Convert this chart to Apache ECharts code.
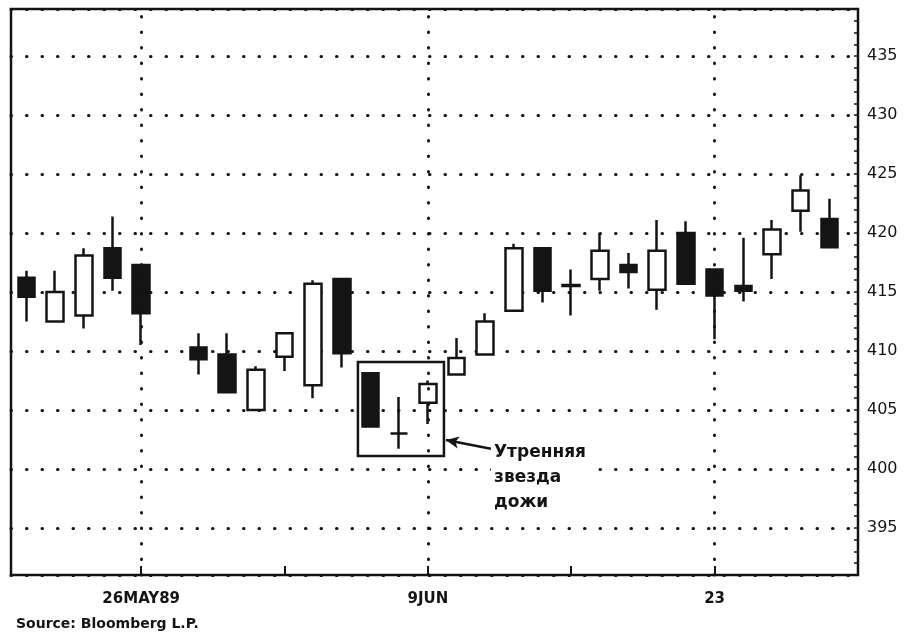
<!DOCTYPE html>
<html>
<head>
<meta charset="utf-8">
<script src="https://cdn.jsdelivr.net/npm/echarts@6/dist/echarts.min.js"></script>
<style>html,body{margin:0;padding:0;background:#fff}#c{width:917px;height:637px}</style>
</head>
<body>
<div id="c"></div>
<script>
// Trading days (slot for the 29 May holiday kept empty)
const dates = ['1989-05-22','1989-05-23','1989-05-24','1989-05-25','1989-05-26','1989-05-29','1989-05-30','1989-05-31','1989-06-01','1989-06-02','1989-06-05','1989-06-06','1989-06-07','1989-06-08','1989-06-09','1989-06-12','1989-06-13','1989-06-14','1989-06-15','1989-06-16','1989-06-19','1989-06-20','1989-06-21','1989-06-22','1989-06-23','1989-06-26','1989-06-27','1989-06-28','1989-06-29'];
const opens  = [416.2,412.5,413.0,418.7,417.3,null,410.3,409.7,405.0,409.5,407.1,416.1,408.1,403.0,405.6,408.0,409.7,413.4,418.7,415.6,416.1,417.3,415.2,420.0,416.9,415.5,418.2,421.9,421.2];
const closes = [414.6,415.0,418.1,416.2,413.2,null,409.3,406.5,408.4,411.5,415.7,409.8,403.6,403.0,407.2,409.4,412.5,418.7,415.1,415.5,418.5,416.7,418.5,415.7,414.7,415.1,420.3,423.6,418.8];
const lows   = [412.5,412.4,411.9,415.1,410.5,null,408.0,406.4,405.0,408.3,406.0,408.6,403.6,401.7,403.8,408.0,409.7,413.4,414.1,413.0,415.1,415.3,413.5,415.6,411.0,414.2,416.1,420.1,418.8];
const highs  = [416.8,416.8,418.7,421.4,417.4,null,411.5,411.5,408.7,411.5,416.0,416.2,408.1,406.1,407.5,411.1,413.2,419.1,418.7,416.9,420.0,418.3,421.1,421.0,416.9,419.6,421.1,424.9,422.9];

const xLabelDates = ['1989-05-26','1989-06-09','1989-06-23'];
const xTickLabels = ['26MAY89','9JUN','23'];
const yTickLabels = [395,400,405,410,415,420,425,430,435];
const annotationText = ['Утренняя','звезда','дожи'];
const sourceText = 'Source: Bloomberg L.P.';

const INK = '#141414';
const candleData = dates.map((d,i)=> opens[i]==null ? null : [i, opens[i], closes[i], lows[i], highs[i]]).filter(Boolean);
const gridIdx = xLabelDates.map(d => dates.indexOf(d));
const dotted = {type:[0.5,15], width:3, cap:'round', color:INK};

const option = {
  animation:false,
  backgroundColor:'#fff',
  grid:[
    {left:11, top:9, width:847, height:566, show:true, borderColor:INK, borderWidth:2.5, backgroundColor:'transparent', containLabel:false, outerBoundsMode:'none'},
    {left:-2.17, top:9, width:860.1, height:566, show:false, containLabel:false, outerBoundsMode:'none'}
  ],
  xAxis:[
    {type:'value', gridIndex:0, min:0, max:1, show:false, axisLine:{onZero:false}},
    {type:'value', gridIndex:1, min:-1, max:29, interval:5,
     axisLine:{show:false, onZero:false},
     axisTick:{show:true, inside:true, length:9, lineStyle:{color:INK, width:2}},
     axisLabel:{show:true, margin:17, color:INK, fontFamily:'DejaVu Sans', fontWeight:'bold', fontSize:15,
       formatter:v=>{const k=gridIdx.indexOf(Math.round(v)); return k>=0?xTickLabels[k]:'';}},
     splitLine:{show:false}}
  ],
  yAxis:[
    {type:'value', gridIndex:0, position:'right', min:391, max:439, interval:1,
     axisLine:{show:false, onZero:false},
     axisTick:{show:true, inside:true, length:4, lineStyle:{color:INK, width:1.5}},
     axisLabel:{show:true, margin:9, color:INK, fontFamily:'DejaVu Sans', fontSize:16,
       formatter:v=>{const r=Math.round(v); return (Math.abs(v-r)<1e-6 && yTickLabels.includes(r))? String(r):'';}},
     splitLine:{show:false}},
    {type:'value', gridIndex:0, position:'left', min:391, max:439, splitNumber:10,
     axisLine:{show:false, onZero:false}, axisTick:{show:false}, axisLabel:{show:false},
     splitLine:{show:true, lineStyle:dotted}},
    {type:'value', gridIndex:1, min:391, max:439, show:false, axisLine:{onZero:false}, splitLine:{show:false}}
  ],
  series:[{
    type:'candlestick', xAxisIndex:1, yAxisIndex:2,
    data:candleData, barWidth:17,
    itemStyle:{color:'#fff', color0:INK, borderColor:INK, borderColor0:INK, borderWidth:2.5},
    markLine:{
      silent:true, symbol:['none','none'], label:{show:false}, animation:false,
      data:[
        ...gridIdx.map(k=>({xAxis:k, lineStyle:dotted})),
        [{coord:[16.2,401.7], symbol:'none', lineStyle:{type:'solid', width:2.5, color:INK}},
         {coord:[14.63,402.45], symbol:'arrow', symbolSize:[9,13]}]
      ]
    },
    markArea:{
      silent:true, label:{show:false},
      itemStyle:{color:'rgba(0,0,0,0)', borderColor:INK, borderWidth:2.5},
      data:[[{coord:[11.56,409.06]},{coord:[14.56,401.1]}]]
    }
  }],
  graphic:[
    {type:'text', left:491, top:440, z:100, style:{text:annotationText.join('\n'), font:'bold 17px "DejaVu Sans"', lineHeight:25, fill:INK, backgroundColor:'#fff', padding:[0,3,0,3]}},
    {type:'text', left:16, top:617, style:{text:sourceText, font:'bold 14px "DejaVu Sans"', fill:INK}}
  ]
};
const chart = echarts.init(document.getElementById('c'));
chart.setOption(option);
</script>
</body>
</html>
